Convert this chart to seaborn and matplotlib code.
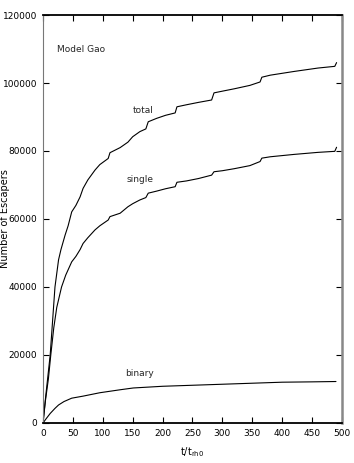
import matplotlib; matplotlib.use('Agg')
import pandas as pd
import numpy as np
import seaborn as sns
import matplotlib.pyplot as plt

# values
t_total = [0, 4, 8, 12, 16, 20, 26, 30, 37, 42, 48, 55, 62, 67, 75, 87, 95, 109, 112, 129, 142, 150, 162,
           172, 176, 190, 205, 221, 224, 240, 260, 282, 286, 300, 320, 346, 363, 366, 380, 420, 460, 488, 491]
n_total = [0, 7000, 13500, 20000, 30000, 40000, 48000, 51000, 55300, 58000, 62100, 64000, 66500, 69000, 71500,
           74400, 76000, 77800, 79500, 81000, 82600, 84200, 85700, 86500, 88600, 89600, 90500, 91200, 93000,
           93600, 94300, 95000, 97100, 97600, 98300, 99300, 100300, 101700, 102300, 103400, 104400, 104900, 106000]

t_single = [0, 4, 9, 13, 18, 23, 31, 38, 48, 55, 62, 67, 75, 87, 95, 109, 112, 129, 142, 150, 162,
            172, 176, 190, 205, 221, 224, 240, 260, 282, 286, 300, 320, 346, 363, 366, 380, 420, 460, 488, 491]
n_single = [0, 6500, 13000, 20000, 28000, 34000, 40000, 43500, 47400, 49000, 51000, 52800, 54500, 56800,
            58000, 59700, 60700, 61700, 63600, 64500, 65600, 66300, 67600, 68200, 68900, 69500, 70800,
            71200, 71900, 72900, 73900, 74200, 74800, 75700, 76900, 77900, 78300, 79000, 79600, 79900, 81100]

t_binary = [0, 5, 12, 20, 26, 35, 48, 67, 95, 130, 151, 200, 250, 300, 350, 400, 450, 490]
n_binary = [0, 1200, 2800, 4300, 5300, 6300, 7300, 7900, 8900, 9800, 10300, 10800, 11100, 11400,
            11700, 12000, 12100, 12200]

x_ticks = [0, 50, 100, 150, 200, 250, 300, 350, 400, 450, 500]
y_ticks = [0, 20000, 40000, 60000, 80000, 100000, 120000]

sns.set_style('ticks')
plt.rcParams['font.family'] = ['Liberation Sans Narrow', 'DejaVu Sans']

fig = plt.figure(figsize=(3.54, 4.63), dpi=100)
ax = fig.add_axes([0.1215, 0.0864, 0.8445, 0.8812])

for t, n in [(t_total, n_total), (t_single, n_single), (t_binary, n_binary)]:
    df = pd.DataFrame({'t': t, 'n': n})
    sns.lineplot(data=df, x='t', y='n', ax=ax, color='black', linewidth=0.8,
                 estimator=None, sort=False)

ax.set_xlim(0, 500)
ax.set_ylim(0, 120000)
ax.set_xticks(x_ticks)
ax.set_yticks(y_ticks)
ax.tick_params(direction='in', top=True, right=True, labelsize=6.5, length=4, width=0.8,
               pad=4, labelcolor='black', color='black')
for side in ['top', 'bottom']:
    ax.spines[side].set_color('black')
    ax.spines[side].set_linewidth(1.3)
ax.spines['left'].set_color('#777777')
ax.spines['left'].set_linewidth(0.8)
ax.spines['right'].set_color('#888888')
ax.spines['right'].set_linewidth(1.8)

ax.set_xlabel('t/t$_{\\rm rh0}$', fontsize=7, color='black')
ax.xaxis.set_label_coords(0.5, -0.055)
ax.set_ylabel('Number of Escapers', fontsize=7, family='DejaVu Sans', color='black')
ax.yaxis.set_label_coords(-0.11, 0.5)

ax.text(23, 110000, 'Model Gao', fontsize=6.5, ha='left', va='center')
ax.text(168, 92000, 'total', fontsize=6.5, ha='center', va='center')
ax.text(162, 71500, 'single', fontsize=6.5, ha='center', va='center')
ax.text(162, 14700, 'binary', fontsize=6.5, ha='center', va='center')

plt.savefig('out.png', dpi=100)
plt.close()
